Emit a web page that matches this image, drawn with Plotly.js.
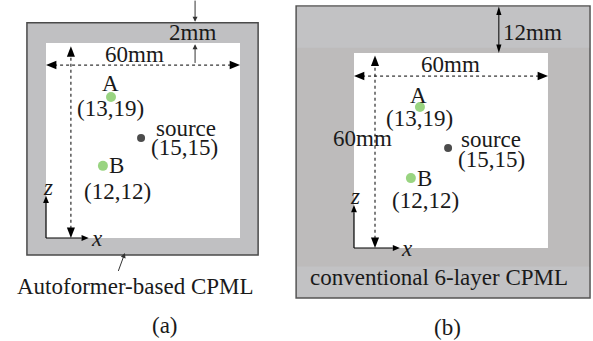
<!DOCTYPE html>
<html>
<head>
<meta charset="utf-8">
<script src="https://cdn.plot.ly/plotly-3.0.1.min.js"></script>
<style>html,body{margin:0;padding:0;background:#fff;}#plot{width:593px;height:341px;}</style>
</head>
<body>
<div id="plot"></div>
<script>
// ---- data (mm, interior origin at lower-left) ----
const pointNames = ['A', 'source', 'B'];
const pointCoords = ['(13,19)', '(15,15)', '(12,12)'];
const pointColors = ['#6dc24b', '#000000', '#6dc24b'];
const pointSizes = [10, 8, 10];
const xPanelA = [20.1, 29.4, 17.6];
const zPanelA = [43.4, 30.8, 22.2];
const xPanelB = [20.4, 29.1, 17.6];
const zPanelB = [43.4, 30.8, 21.5];
const domainSize = 60;
const domainLabel = '60mm';
const thicknessLabels = ['2mm', '12mm'];
const cpmlLabels = ['Autoformer-based CPML', 'conventional 6-layer CPML'];
const panelLabels = ['(a)', '(b)'];

const FONT = "'Liberation Serif', 'Times New Roman', serif";
const TXT = '#1a1a1a';
const FS = 23;

const shapes = [];
const annotations = [];

function rect(xr, yr, x0, y0, x1, y1, fill, line) {
  shapes.push({type: 'rect', xref: xr, yref: yr, x0, y0, x1, y1, fillcolor: fill,
    line: line || {width: 0}, layer: 'below'});
}
function seg(xr, yr, x0, y0, x1, y1, dash, w) {
  shapes.push({type: 'line', xref: xr, yref: yr, x0, y0, x1, y1,
    line: {color: '#000', width: w || 1, dash: dash || 'solid'}});
}
// filled triangle arrowhead; dir: 'l','r','u','d'; len/hw in mm
function head(xr, yr, tx, ty, dir, len, hw) {
  let p;
  if (dir === 'l') p = `M${tx},${ty} L${tx + len},${ty + hw} L${tx + len},${ty - hw} Z`;
  if (dir === 'r') p = `M${tx},${ty} L${tx - len},${ty + hw} L${tx - len},${ty - hw} Z`;
  if (dir === 'u') p = `M${tx},${ty} L${tx - hw},${ty - len} L${tx + hw},${ty - len} Z`;
  if (dir === 'd') p = `M${tx},${ty} L${tx - hw},${ty + len} L${tx + hw},${ty + len} Z`;
  shapes.push({type: 'path', xref: xr, yref: yr, path: p, fillcolor: '#000', line: {width: 0}});
}
function txt(xr, yr, x, y, text, xanchor, size) {
  annotations.push({xref: xr, yref: yr, x, y, text, showarrow: false,
    xanchor: xanchor || 'center', yanchor: 'middle', borderpad: 0,
    font: {family: FONT, size: size || FS, color: TXT}});
}
function barb(xr, yr, x, y, ax, ay) {
  annotations.push({xref: xr, yref: yr, axref: xr, ayref: yr, x, y, ax, ay, text: '',
    showarrow: true, arrowhead: 2, arrowsize: 1, arrowwidth: 1, arrowcolor: '#333'});
}

// ---------------- panel (a) ----------------
rect('x', 'y', -5.9, -5.2, 65.6, 66.2, '#c0c0c2', {color: '#4a4a4a', width: 1.5});
rect('x', 'y', 0, 0, domainSize, domainSize, '#ffffff');
// 60mm horizontal
seg('x', 'y', 2.5, 53.2, domainSize - 2.5, 53.2, 'dot');
head('x', 'y', 0, 53.2, 'l', 3.2, 1.3);
head('x', 'y', domainSize, 53.2, 'r', 3.2, 1.3);
// vertical dotted
seg('x', 'y', 7.7, 1, 7.7, 57, 'dot');
head('x', 'y', 7.7, 59, 'u', 3.2, 1.25);
head('x', 'y', 7.7, 0, 'd', 3.2, 1.25);
// 2mm arrows
barb('x', 'y', 46.1, 66.5, 46.1, 73.5);
barb('x', 'y', 46.1, 59.6, 46.1, 53.4);
txt('x', 'y', 45.2, 63.1, thicknessLabels[0]);
txt('x', 'y', 27.5, 56.4, domainLabel);
// coordinate axes
seg('x', 'y', 0, 0, 0, 11, 'solid', 1.2);
head('x', 'y', 0, 13, 'u', 2.2, 0.9);
seg('x', 'y', 0, 0, 11, 0, 'solid', 1.2);
head('x', 'y', 13.2, 0, 'r', 2.2, 0.9);
txt('x', 'y', 0.6, 15.6, '<i>z</i>');
txt('x', 'y', 15.9, -0.3, '<i>x</i>');
// point labels
txt('x', 'y', 19.8, 47.4, pointNames[0]);
txt('x', 'y', 19.8, 40.0, pointCoords[0]);
txt('x', 'y', 33.8, 33.6, pointNames[1], 'left');
txt('x', 'y', 32.2, 27.8, pointCoords[1], 'left');
txt('x', 'y', 19.3, 22.2, pointNames[2], 'left');
txt('x', 'y', 22.0, 14.2, pointCoords[2]);
// CPML pointer and label
barb('x', 'y', 24.4, -4.6, 22.2, -10.6);
txt('x', 'y', 27.8, -14.8, cpmlLabels[0]);
txt('x', 'y', 36.8, -26.8, panelLabels[0]);

// ---------------- panel (b) ----------------
rect('x2', 'y2', -17.9, -15.4, 73.0, 74.5, '#bdbbbb', {color: '#555555', width: 1.5});
rect('x2', 'y2', -17.6, 61.6, 72.7, 74.2, '#c2c2c4');
rect('x2', 'y2', -17.6, -15.0, 72.7, -5.7, '#c2c2c4');
rect('x2', 'y2', 0, 0, domainSize, domainSize, '#ffffff');
seg('x2', 'y2', 2.5, 52.9, domainSize - 2.5, 52.9, 'dot');
head('x2', 'y2', 0, 52.9, 'l', 3.2, 1.3);
head('x2', 'y2', domainSize, 52.9, 'r', 3.2, 1.3);
seg('x2', 'y2', 6.5, 1, 6.5, 57, 'dot');
head('x2', 'y2', 6.5, 59.2, 'u', 3.2, 1.25);
head('x2', 'y2', 6.5, 0, 'd', 3.2, 1.25);
// 12mm double arrow
seg('x2', 'y2', 44.8, 62.5, 44.8, 72.0, 'solid', 1);
head('x2', 'y2', 44.8, 74.3, 'u', 2.6, 0.8);
head('x2', 'y2', 44.8, 60.0, 'd', 2.6, 0.8);
txt('x2', 'y2', 45.8, 66.3, thicknessLabels[1], 'left');
txt('x2', 'y2', 30.0, 56.4, domainLabel);
txt('x2', 'y2', 2.6, 33.8, domainLabel);
seg('x2', 'y2', 0, 0, 0, 11, 'solid', 1.2);
head('x2', 'y2', 0, 13.2, 'u', 2.2, 0.9);
seg('x2', 'y2', 0, 0, 12, 0, 'solid', 1.2);
head('x2', 'y2', 14.2, 0, 'r', 2.2, 0.9);
txt('x2', 'y2', 0.2, 15.8, '<i>z</i>');
txt('x2', 'y2', 16.4, -0.3, '<i>x</i>');
txt('x2', 'y2', 20.1, 46.8, pointNames[0]);
txt('x2', 'y2', 20.4, 40.0, pointCoords[0]);
txt('x2', 'y2', 32.8, 33.4, pointNames[1], 'left');
txt('x2', 'y2', 32.0, 27.2, pointCoords[1], 'left');
txt('x2', 'y2', 19.2, 21.5, pointNames[2], 'left');
txt('x2', 'y2', 22.0, 14.6, pointCoords[2]);
txt('x2', 'y2', 26.3, -9.2, cpmlLabels[1]);
txt('x2', 'y2', 28.8, -24.6, panelLabels[1]);

const traces = [
  {type: 'scatter', mode: 'markers', x: xPanelA, y: zPanelA, xaxis: 'x', yaxis: 'y',
   marker: {color: pointColors, size: pointSizes, line: {width: 0}}, hoverinfo: 'skip'},
  {type: 'scatter', mode: 'markers', x: xPanelB, y: zPanelB, xaxis: 'x2', yaxis: 'y2',
   marker: {color: pointColors, size: pointSizes, line: {width: 0}}, hoverinfo: 'skip'}
];

const ax = {visible: false, showgrid: false, zeroline: false, fixedrange: true, autorange: false};
const layout = {
  width: 593, height: 341,
  margin: {l: 0, r: 0, t: 0, b: 0, pad: 0},
  paper_bgcolor: '#ffffff', plot_bgcolor: 'rgba(0,0,0,0)',
  showlegend: false,
  xaxis: Object.assign({}, ax, {domain: [0, 290 / 593], range: [-14.23, 75.46]}),
  yaxis: Object.assign({}, ax, {domain: [0, 1], range: [-31.69, 73.23]}),
  xaxis2: Object.assign({}, ax, {domain: [290 / 593, 1], range: [-19.79, 73.92], anchor: 'y2'}),
  yaxis2: Object.assign({}, ax, {domain: [0, 1], range: [-28.62, 76.31], anchor: 'x2'}),
  shapes, annotations
};
Plotly.newPlot('plot', traces, layout, {staticPlot: true, displayModeBar: false});
</script>
</body>
</html>
